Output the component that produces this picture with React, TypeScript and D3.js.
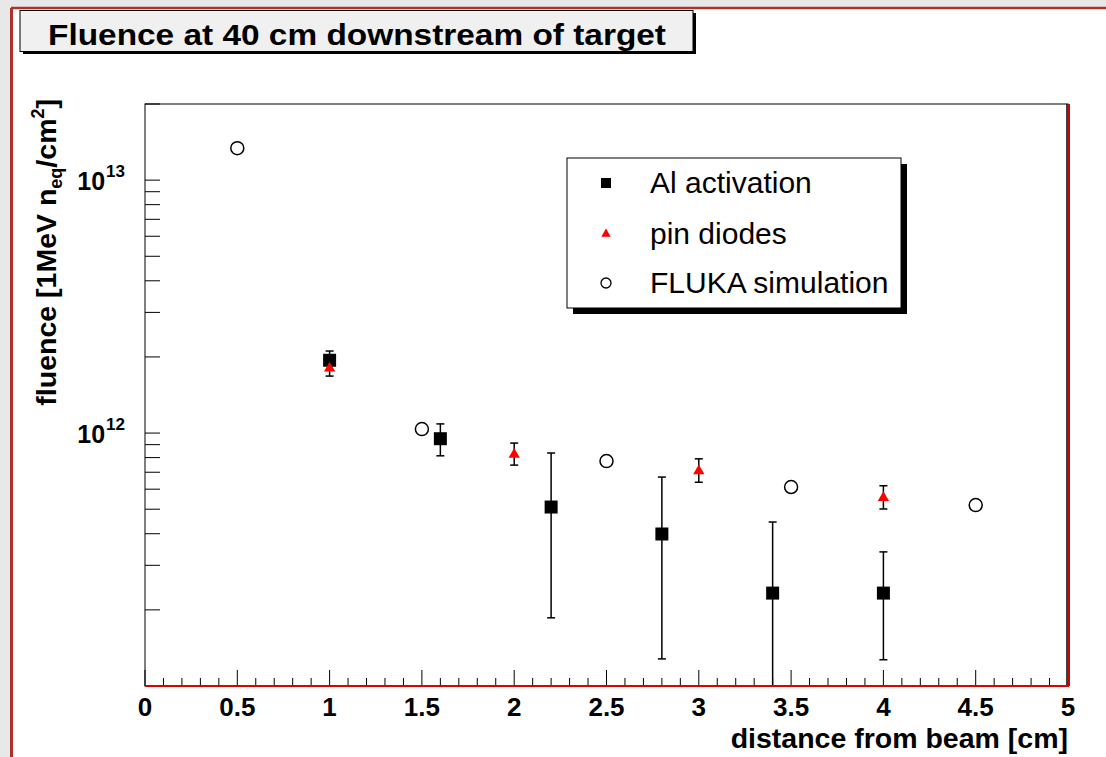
import React from "react";
import * as d3 from "d3";

const alX = [1.0, 1.6, 2.2, 2.8, 3.4, 4.0];
const alY = [1.94e12, 9.5e11, 5.1e11, 3.99e11, 2.33e11, 2.33e11];
const alErr = [1.7e11, 1.37e11, 3.24e11, 2.71e11, 2.12e11, 1.06e11];

const pinX = [1.0, 2.0, 3.0, 4.0];
const pinY = [1.82e12, 8.3e11, 7.15e11, 5.6e11];
const pinErr = [1.4e11, 8.3e10, 7.6e10, 5.9e10];

const flukaX = [0.5, 1.5, 2.5, 3.5, 4.5];
const flukaY = [1.338e13, 1.037e12, 7.75e11, 6.12e11, 5.19e11];

const xTickLabels = ["0", "0.5", "1", "1.5", "2", "2.5", "3", "3.5", "4", "4.5", "5"];
const yDecades = [12, 13];
const legendLabels = ["Al activation", "pin diodes", "FLUKA simulation"];

const W = 1106, H = 757;
const L = 145, R = 1068, T = 104, B = 686;
const FONT = "'Liberation Sans', Arial, Helvetica, sans-serif";

export default function App() {
  const x = d3.scaleLinear().domain([0, 5]).range([L, R]);
  const y = d3.scaleLog().domain([1e11, 2e13]).range([B, T]);

  const sq = d3.symbol().type(d3.symbolSquare).size(169)();
  const tri = d3.symbol().type(d3.symbolTriangle).size(55)();
  const circR = 6.5;
  const sqL = d3.symbol().type(d3.symbolSquare).size(100)();
  const triL = d3.symbol().type(d3.symbolTriangle).size(38)();

  const yTicks: { v: number; major: boolean }[] = [];
  for (let e = 11; e <= 13; e++) {
    for (let m = 1; m <= 9; m++) {
      const v = m * Math.pow(10, e);
      if (v >= 1e11 && v <= 2e13) yTicks.push({ v, major: m === 1 });
    }
  }
  const xTicks: { v: number; major: boolean }[] = [];
  for (let i = 0; i <= 50; i++) xTicks.push({ v: i / 10, major: i % 5 === 0 });

  const errBar = (xv: number, yv: number, e: number, key: string) => {
    const px = x(xv);
    const lo = yv - e;
    const yTop = y(yv + e);
    const yBot = lo > 0 ? y(lo) : B + 50;
    const loClipped = lo <= 1e11;
    return (
      <g key={key} stroke="#000" strokeWidth={1.5}>
        <line x1={px} x2={px} y1={yTop} y2={Math.min(yBot, B)} />
        <line x1={px - 4} x2={px + 4} y1={yTop} y2={yTop} />
        {!loClipped && <line x1={px - 4} x2={px + 4} y1={yBot} y2={yBot} />}
      </g>
    );
  };

  return (
    <div style={{ position: "absolute", left: 0, top: 0 }}>
      <svg width={W} height={H} style={{ display: "block" }} fontFamily={FONT}>
        <rect x={0} y={0} width={W} height={H} fill="#e8e8e8" />
        <rect x={11} y={8} width={W - 11} height={H - 8} fill="#ffffff" />
        <line x1={11} x2={W} y1={8} y2={8} stroke="#b0302c" strokeWidth={2.5} />
        <line x1={11.5} x2={11.5} y1={8} y2={H} stroke="#b0302c" strokeWidth={3} />

        {/* title box */}
        <rect x={23} y={13} width={673} height={41} fill="#000" />
        <rect x={20} y={10.5} width={673} height={41} fill="#f0f0f0" stroke="#000" strokeWidth={1} />
        <text x={357} y={45} textAnchor="middle" fontSize={29} fontWeight="bold" textLength={618} lengthAdjust="spacingAndGlyphs">
          Fluence at 40 cm downstream of target
        </text>

        {/* frame */}
        <rect x={L} y={T} width={R - L} height={B - T} fill="#fff" stroke="#000" strokeWidth={1} />

        {yTicks.map((t, i) => (
          <line key={"yt" + i} x1={L} x2={L + 15} y1={y(t.v)} y2={y(t.v)} stroke="#000" strokeWidth={1} />
        ))}
        {xTicks.map((t, i) => (
          <line key={"xt" + i} x1={x(t.v)} x2={x(t.v)} y1={B} y2={B - (t.major ? 16 : 8)} stroke="#000" strokeWidth={1} />
        ))}

        <defs>
          <clipPath id="plotclip">
            <rect x={L} y={T} width={R - L} height={B - T} />
          </clipPath>
        </defs>

        <g clipPath="url(#plotclip)">
          {alX.map((xv, i) => errBar(xv, alY[i], alErr[i], "ae" + i))}
          {pinX.map((xv, i) => errBar(xv, pinY[i], pinErr[i], "pe" + i))}
          {alX.map((xv, i) => (
            <path key={"as" + i} d={sq as string} transform={`translate(${x(xv)},${y(alY[i])})`} fill="#000" />
          ))}
          {pinX.map((xv, i) => (
            <path key={"pt" + i} d={tri as string} transform={`translate(${x(xv)},${y(pinY[i]) + 1})`} fill="#ff0000" />
          ))}
          {flukaX.map((xv, i) => (
            <circle key={"fc" + i} cx={x(xv)} cy={y(flukaY[i])} r={circR} fill="#fff" stroke="#000" strokeWidth={1.5} />
          ))}
        </g>

        <line x1={R} x2={R} y1={T} y2={B} stroke="#000" strokeWidth={3.5} />
        <line x1={R} x2={R} y1={T} y2={B} stroke="#e00000" strokeWidth={1.8} />
        <line x1={L} x2={R + 1} y1={B} y2={B} stroke="#e00000" strokeWidth={2} />

        {/* y tick labels */}
        {yDecades.map((e) => (
          <text key={"yl" + e} x={125} y={y(Math.pow(10, e)) + 10} textAnchor="end" fontSize={25} fontWeight="bold">
            10
            <tspan fontSize={17} dx={1} dy={-13}>{e}</tspan>
          </text>
        ))}

        {/* x tick labels */}
        {xTickLabels.map((s, i) => (
          <text key={"xl" + i} x={x(i * 0.5)} y={716} textAnchor="middle" fontSize={26} fontWeight="bold">
            {s}
          </text>
        ))}

        {/* axis titles */}
        <text x={R} y={748} textAnchor="end" fontSize={28.5} fontWeight="bold">
          distance from beam [cm]
        </text>
        <text transform={`translate(56,99) rotate(-90)`} textAnchor="end" fontSize={28.5} fontWeight="bold">
          fluence [1MeV n
          <tspan fontSize={18} dy={6}>eq</tspan>
          <tspan dy={-6}>/cm</tspan>
          <tspan fontSize={18} dy={-12}>2</tspan>
          <tspan dy={12}>]</tspan>
        </text>

        {/* legend */}
        <rect x={573} y={164} width={334} height={150} fill="#000" />
        <rect x={567} y={158} width={334} height={150} fill="#fff" stroke="#000" strokeWidth={1} />
        {legendLabels.map((s, i) => {
          const ly = [183, 234, 283][i];
          return (
            <g key={"lg" + i}>
              {i === 0 && <path d={sqL as string} transform={`translate(606,${ly})`} fill="#000" />}
              {i === 1 && <path d={triL as string} transform={`translate(606,${ly})`} fill="#ff0000" />}
              {i === 2 && <circle cx={606} cy={ly} r={5} fill="#fff" stroke="#000" strokeWidth={1.3} />}
              <text x={650} y={ly + 10} fontSize={30}>{s}</text>
            </g>
          );
        })}
      </svg>
    </div>
  );
}
